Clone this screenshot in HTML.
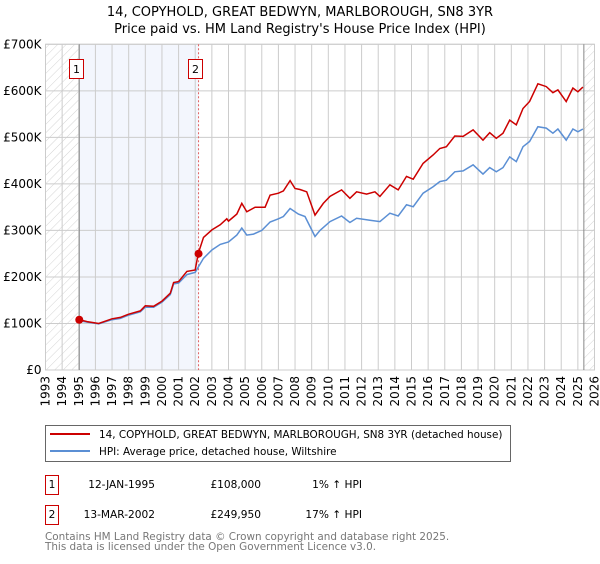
<!DOCTYPE html>
<html><head><meta charset="utf-8"><style>
body{margin:0;background:#fff;width:600px;height:560px;overflow:hidden;font-family:"DejaVu Sans","Liberation Sans",sans-serif}
svg text{font-family:"DejaVu Sans","Liberation Sans",sans-serif}
</style></head><body>
<svg id="chart" width="600" height="560" xmlns="http://www.w3.org/2000/svg">
<defs><pattern id="hatch" width="6" height="6" patternUnits="userSpaceOnUse" patternTransform="rotate(45)"><line x1="0" y1="0" x2="0" y2="6" stroke="#d4d4d4" stroke-width="1"/></pattern></defs>
<text x="300" y="16" font-size="13" text-anchor="middle" fill="#000">14, COPYHOLD, GREAT BEDWYN, MARLBOROUGH, SN8 3YR</text>
<text x="300" y="33" font-size="13" text-anchor="middle" fill="#000">Price paid vs. HM Land Registry's House Price Index (HPI)</text>
<g id="plot"></g>
<g>
<rect x="45.5" y="425.5" width="465" height="36" fill="#fff" stroke="#666"/>
<line x1="50" y1="434" x2="90" y2="434" stroke="#cc0000" stroke-width="2"/>
<text x="99" y="438" font-size="10.4">14, COPYHOLD, GREAT BEDWYN, MARLBOROUGH, SN8 3YR (detached house)</text>
<line x1="50" y1="451" x2="90" y2="451" stroke="#5b8fd4" stroke-width="2"/>
<text x="99" y="455" font-size="10.4">HPI: Average price, detached house, Wiltshire</text>
</g>
<g font-size="10.6">
<rect x="45.5" y="475.5" width="13" height="19" fill="#fff" stroke="#cc0000"/>
<text x="52" y="488" text-anchor="middle">1</text>
<text x="155" y="488" text-anchor="end">12-JAN-1995</text>
<text x="261" y="488" text-anchor="end">£108,000</text>
<text x="362" y="488" text-anchor="end">1% ↑ HPI</text>
<rect x="45.5" y="505.5" width="13" height="19" fill="#fff" stroke="#cc0000"/>
<text x="52" y="518" text-anchor="middle">2</text>
<text x="155" y="518" text-anchor="end">13-MAR-2002</text>
<text x="261" y="518" text-anchor="end">£249,950</text>
<text x="362" y="518" text-anchor="end">17% ↑ HPI</text>
</g>
<g font-size="10.4" fill="#777">
<text x="45" y="540">Contains HM Land Registry data © Crown copyright and database right 2025.</text>
<text x="45" y="550">This data is licensed under the Open Government Licence v3.0.</text>
</g>
</svg>
<script>
const yTicks=[0,100,200,300,400,500,600,700];
const yTickLabels=["£0","£100K","£200K","£300K","£400K","£500K","£600K","£700K"];
const years=[1993,1994,1995,1996,1997,1998,1999,2000,2001,2002,2003,2004,2005,2006,2007,2008,2009,2010,2011,2012,2013,2014,2015,2016,2017,2018,2019,2020,2021,2022,2023,2024,2025,2026];
const priceT=[1995.03,1995.5,1996.2,1997,1997.5,1998,1998.7,1999,1999.5,2000,2000.5,2000.7,2001.0,2001.5,2002.0,2002.18,2002.5,2003,2003.5,2003.9,2004.0,2004.5,2004.8,2005.1,2005.6,2006.2,2006.5,2007,2007.3,2007.7,2008.0,2008.3,2008.7,2009.2,2009.7,2010.1,2010.8,2011.3,2011.7,2012.3,2012.8,2013.1,2013.7,2014.2,2014.7,2015.1,2015.7,2016.3,2016.7,2017.1,2017.6,2018.1,2018.7,2019.3,2019.7,2020.1,2020.5,2020.9,2021.3,2021.7,2022.1,2022.6,2023.1,2023.5,2023.8,2024.3,2024.7,2025.0,2025.3];
const priceV=[108,104,100,110,113,120,127,138,137,148,165,188,190,212,215,250,285,301,312,325,320,335,358,340,350,350,376,380,385,407,390,388,383,333,358,373,387,369,383,378,383,373,398,387,416,410,444,462,476,480,503,502,516,494,510,498,509,537,527,562,577,615,609,596,602,577,606,598,608];
const hpiT=[1995.03,1995.5,1996.2,1997,1997.5,1998,1998.7,1999,1999.5,2000,2000.5,2000.7,2001.0,2001.5,2002.0,2002.5,2003,2003.5,2004,2004.5,2004.8,2005.1,2005.5,2006,2006.5,2007,2007.3,2007.7,2008.2,2008.6,2009.2,2009.5,2010.1,2010.8,2011.3,2011.7,2012.5,2013.1,2013.7,2014.2,2014.7,2015.1,2015.7,2016.3,2016.7,2017.1,2017.6,2018.1,2018.7,2019.3,2019.7,2020.1,2020.5,2020.9,2021.3,2021.7,2022.1,2022.6,2023.1,2023.5,2023.8,2024.3,2024.7,2025.0,2025.3];
const hpiV=[106,103,99,108,111,118,125,135,135,146,162,185,187,205,210,240,258,270,275,290,305,290,292,300,318,325,330,347,335,330,287,300,319,331,317,326,322,319,337,331,355,351,380,394,405,408,426,428,441,421,435,426,435,458,448,480,491,523,520,509,518,494,518,512,518];
const saleT=[1995.03,2002.2];
const saleV=[108,249.95];
const x0=45.5,x1=594.5,yTop=44.3,yBot=370;
const X=t=>x0+(t-1993)/(2026-1993)*(x1-x0);
const Y=v=>yBot-v/700*(yBot-yTop);
const NS="http://www.w3.org/2000/svg";
const g=document.getElementById('plot');
function mk(tag,attrs,parent){const e=document.createElementNS(NS,tag);for(const k in attrs)e.setAttribute(k,attrs[k]);(parent||g).appendChild(e);return e;}
let r=mk('rect',{x:x0,y:yTop,width:X(1995.03)-x0,height:yBot-yTop,fill:'url(#hatch)'});


r=mk('rect',{x:X(2025.36),y:yTop,width:x1-X(2025.36),height:yBot-yTop,fill:'url(#hatch)'});


r=mk('rect',{x:X(1995.03),y:yTop,width:X(2002.2)-X(1995.03),height:yBot-yTop,fill:'#f3f6fd'});


years.forEach(yr=>{const l=mk('line',{x1:X(yr),x2:X(yr),y1:yTop,y2:yBot,stroke:'#ccc','stroke-width':1});


const t=mk('text',{x:0,y:0,'font-size':12,'text-anchor':'end',transform:`translate(${X(yr)+4},${yBot+6}) rotate(-90)`});t.textContent=yr;

});
yTicks.forEach((v,i)=>{const l=mk('line',{x1:x0,x2:x1,y1:Y(v),y2:Y(v),stroke:'#ccc','stroke-width':1});


const t=mk('text',{x:x0-4,y:Y(v)+4,'font-size':12,'text-anchor':'end'});t.textContent=yTickLabels[i];

});
mk('rect',{x:x0,y:yTop,width:x1-x0,height:yBot-yTop,fill:'none',stroke:'#ccc'});
let l=mk('line',{x1:X(1995.03),x2:X(1995.03),y1:yTop,y2:yBot,stroke:'#888','stroke-width':1});


l=mk('line',{x1:X(2002.2),x2:X(2002.2),y1:yTop,y2:yBot,stroke:'#e06060','stroke-width':1,'stroke-dasharray':'2,2'});


l=mk('line',{x1:X(2025.36),x2:X(2025.36),y1:yTop,y2:yBot,stroke:'#888','stroke-width':1});


const pts=(T,V)=>T.map((t,i)=>X(t).toFixed(1)+','+Y(V[i]).toFixed(1)).join(' ');
let p=mk('polyline',{points:pts(hpiT,hpiV),fill:'none',stroke:'#5b8fd4','stroke-width':1.5});


p=mk('polyline',{points:pts(priceT,priceV),fill:'none',stroke:'#cc0000','stroke-width':1.5});


saleT.forEach((t,i)=>{const c=mk('circle',{cx:X(t),cy:Y(saleV[i]),r:4,fill:'#cc0000'});


const bx=Math.round(X(t)-3-7.5);
const b=mk('rect',{x:bx+0.5,y:59.5,width:14,height:19,fill:'#fff',stroke:'#cc0000'});


const tx=mk('text',{x:bx+7.5,y:73,'font-size':11,'text-anchor':'middle'});tx.textContent=String(i+1);

});
</script>
</body></html>
